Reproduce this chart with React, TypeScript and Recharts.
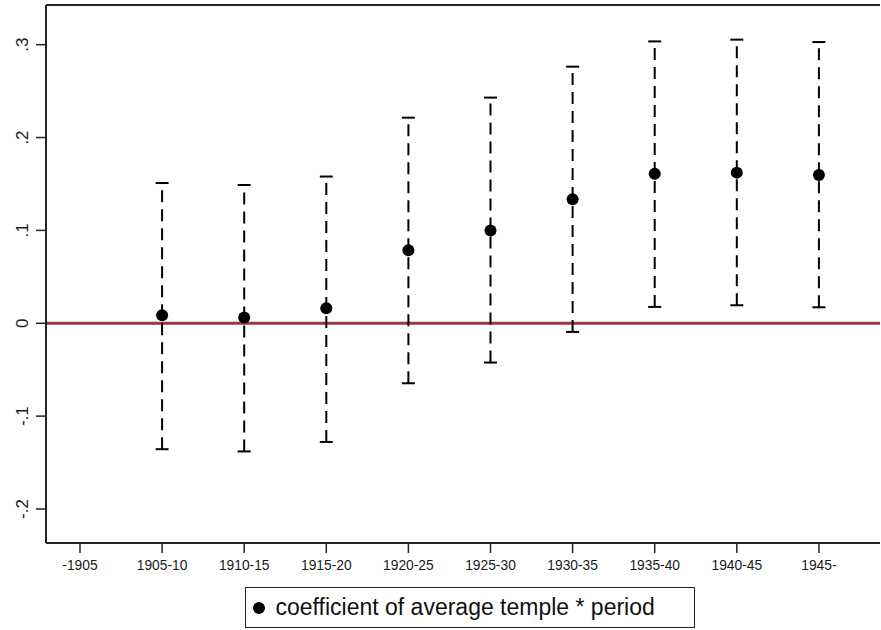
import React from 'react';
import { ScatterChart, Scatter, XAxis, YAxis, ErrorBar, ReferenceLine, Legend } from 'recharts';

const periods = ['-1905', '1905-10', '1910-15', '1915-20', '1920-25', '1925-30', '1930-35', '1935-40', '1940-45', '1945-'];
const coefPeriods = ['1905-10', '1910-15', '1915-20', '1920-25', '1925-30', '1930-35', '1935-40', '1940-45', '1945-'];
const coefficient = [0.0086, 0.0061, 0.0161, 0.0786, 0.1, 0.1335, 0.1611, 0.1622, 0.1596];
const ciLower = [-0.1356, -0.138, -0.1278, -0.0646, -0.0423, -0.0093, 0.0176, 0.0194, 0.0172];
const ciUpper = [0.151, 0.1489, 0.158, 0.2214, 0.243, 0.2763, 0.3035, 0.3054, 0.3028];
const yTicks = [-0.2, -0.1, 0, 0.1, 0.2, 0.3];
const yTickLabels = ['-.2', '-.1', '0', '.1', '.2', '.3'];
const legendLabel = 'coefficient of average temple * period';

const X_DOMAIN: [number, number] = [-0.414, 9.744];
const Y_DOMAIN: [number, number] = [-0.2366, 0.3427];

const pointData = coefPeriods.map((p, i) => ({
  x: periods.indexOf(p),
  y: coefficient[i],
  err: [coefficient[i] - ciLower[i], ciUpper[i] - coefficient[i]],
}));

const capData = coefPeriods.flatMap((p, i) => [
  { x: periods.indexOf(p), y: ciLower[i] },
  { x: periods.indexOf(p), y: ciUpper[i] },
]);

const FONT = "Arial, 'Liberation Sans', Helvetica, sans-serif";

const YTick = (props: any) => {
  const { y, payload } = props;
  const idx = yTicks.findIndex((t) => Math.abs(t - payload.value) < 1e-9);
  const label = idx >= 0 ? yTickLabels[idx] : String(payload.value);
  return (
    <text
      x={23}
      y={y}
      transform={`rotate(-90, 23, ${y})`}
      textAnchor="middle"
      dominantBaseline="central"
      fontSize={17}
      fill="#1a1a1a"
      fontFamily={FONT}
    >
      {label}
    </text>
  );
};

const CapShape = (props: any) => {
  const { cx, cy } = props;
  return <line x1={cx - 6.5} x2={cx + 6.5} y1={cy} y2={cy} stroke="#000" strokeWidth={2} />;
};

const DotShape = (props: any) => {
  const { cx, cy } = props;
  return <circle cx={cx} cy={cy} r={6} fill="#000" />;
};

const LegendBox = () => (
  <div
    style={{
      boxSizing: 'border-box',
      width: 450,
      height: 41,
      border: '1.5px solid #222',
      background: '#fff',
      display: 'flex',
      alignItems: 'center',
      fontFamily: FONT,
      fontSize: 23,
      color: '#111',
      whiteSpace: 'nowrap',
    }}
  >
    <span
      style={{
        display: 'inline-block',
        width: 12,
        height: 12,
        borderRadius: '50%',
        background: '#000',
        marginLeft: 6.5,
        marginRight: 11,
      }}
    />
    <span>{legendLabel}</span>
  </div>
);

export default function App() {
  return (
    <div style={{ position: 'absolute', left: 0, top: 0, width: 881, height: 630, background: '#fff' }}>
      <ScatterChart width={881} height={630} margin={{ top: 5, right: 1, left: 0, bottom: 0 }}>
        <XAxis
          type="number"
          dataKey="x"
          domain={X_DOMAIN}
          allowDataOverflow
          ticks={periods.map((_, i) => i)}
          interval={0}
          tickFormatter={(v: number) => periods[v] ?? ''}
          height={87}
          tickSize={10}
          tickMargin={7}
          axisLine={{ stroke: '#222', strokeWidth: 2 }}
          tickLine={{ stroke: '#222', strokeWidth: 1.5 }}
          tick={{ fontSize: 13.8, fill: '#1a1a1a', fontFamily: FONT }}
        />
        <YAxis
          type="number"
          dataKey="y"
          domain={Y_DOMAIN}
          allowDataOverflow
          ticks={yTicks}
          interval={0}
          width={46}
          tickSize={10}
          axisLine={{ stroke: '#222', strokeWidth: 2 }}
          tickLine={{ stroke: '#222', strokeWidth: 1.5 }}
          tick={<YTick />}
        />
        <ReferenceLine y={Y_DOMAIN[1]} stroke="#222" strokeWidth={2} />
        <ReferenceLine y={0} stroke="#993840" strokeWidth={3} />
        <Scatter data={pointData} dataKey="y" isAnimationActive={false} shape={<DotShape />}>
          <ErrorBar dataKey="err" direction="y" width={0} stroke="#000" strokeWidth={2} strokeDasharray="12 7" />
        </Scatter>
        <Scatter data={capData} dataKey="y" isAnimationActive={false} shape={<CapShape />} />
        <Legend
          layout="horizontal"
          verticalAlign="middle"
          align="center"
          wrapperStyle={{ position: 'absolute', left: 245, top: 587, width: 450, height: 41 }}
          content={() => <LegendBox />}
        />
      </ScatterChart>
    </div>
  );
}
